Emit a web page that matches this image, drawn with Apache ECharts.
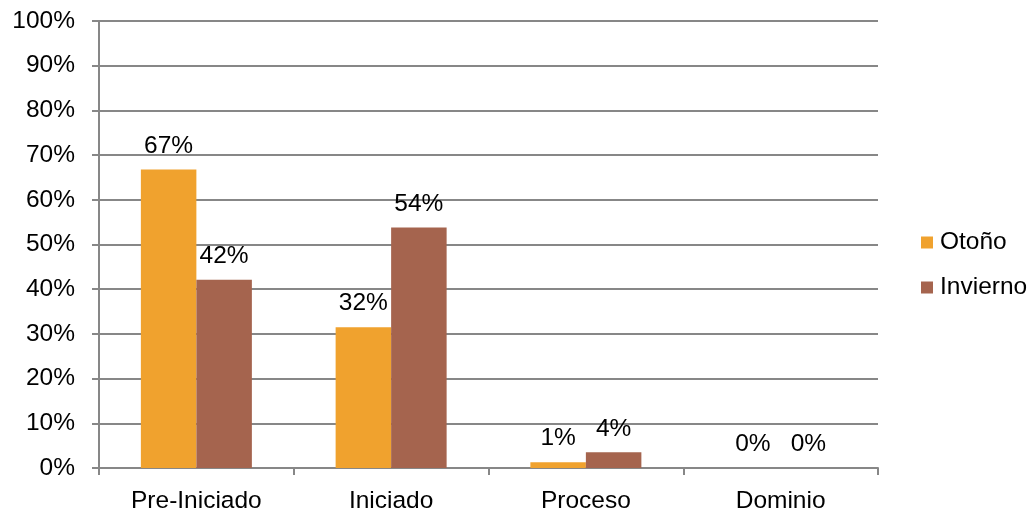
<!DOCTYPE html>
<html>
<head>
<meta charset="utf-8">
<script src="https://cdn.jsdelivr.net/npm/echarts@6/dist/echarts.min.js"></script>
<style>html,body{margin:0;padding:0;background:#fff;}#c{width:1033px;height:519px;}</style>
</head>
<body>
<div id="c"></div>
<script>
const categories = ['Pre-Iniciado', 'Iniciado', 'Proceso', 'Dominio'];
const seriesNames = ['Otoño', 'Invierno'];
const otono = [66.8, 31.5, 1.3, 0];
const invierno = [42.1, 53.8, 3.5, 0];
const colors = ['#F0A22E', '#A5644E'];

const FONT = 'Liberation Sans';
const FS = 24.5;
const grey = '#878787';

const chart = echarts.init(document.getElementById('c'), null, {renderer: 'canvas'});
function mkSeries(name, data, color) {
  return {
    name: name,
    type: 'bar',
    data: data,
    barGap: '0%',
    barCategoryGap: '43%',
    itemStyle: {color: color},
    label: {
      show: true,
      position: 'top',
      distance: 11,
      fontFamily: FONT,
      fontSize: FS,
      color: '#000',
      formatter: p => Math.round(p.value) + '%'
    }
  };
}
chart.setOption({
  animation: false,
  textStyle: {fontFamily: FONT},
  grid: {left: 99, right: 155, top: 21, bottom: 51, containLabel: false},
  legend: {
    orient: 'vertical',
    left: 916,
    top: 225,
    itemWidth: 12,
    itemHeight: 12,
    itemGap: 20,
    icon: 'rect',
    textStyle: {fontFamily: FONT, fontSize: FS, color: '#000', lineHeight: 25, padding: [0, 0, 0, 2]},
    data: seriesNames
  },
  xAxis: {
    type: 'category',
    data: categories,
    axisLine: {lineStyle: {color: grey, width: 2}},
    axisTick: {show: true, length: 7, lineStyle: {color: grey, width: 2}, alignWithLabel: false},
    axisLabel: {fontFamily: FONT, fontSize: FS, color: '#000', margin: 21}
  },
  yAxis: {
    type: 'value',
    min: 0,
    max: 100,
    interval: 10,
    axisLine: {show: true, lineStyle: {color: grey, width: 2}},
    axisTick: {show: true, length: 7, lineStyle: {color: grey, width: 2}},
    splitLine: {show: true, lineStyle: {color: grey, width: 2}},
    axisLabel: {fontFamily: FONT, fontSize: FS, color: '#000', margin: 24, formatter: '{value}%'}
  },
  series: [mkSeries(seriesNames[0], otono, colors[0]), mkSeries(seriesNames[1], invierno, colors[1])]
});
</script>
</body>
</html>
